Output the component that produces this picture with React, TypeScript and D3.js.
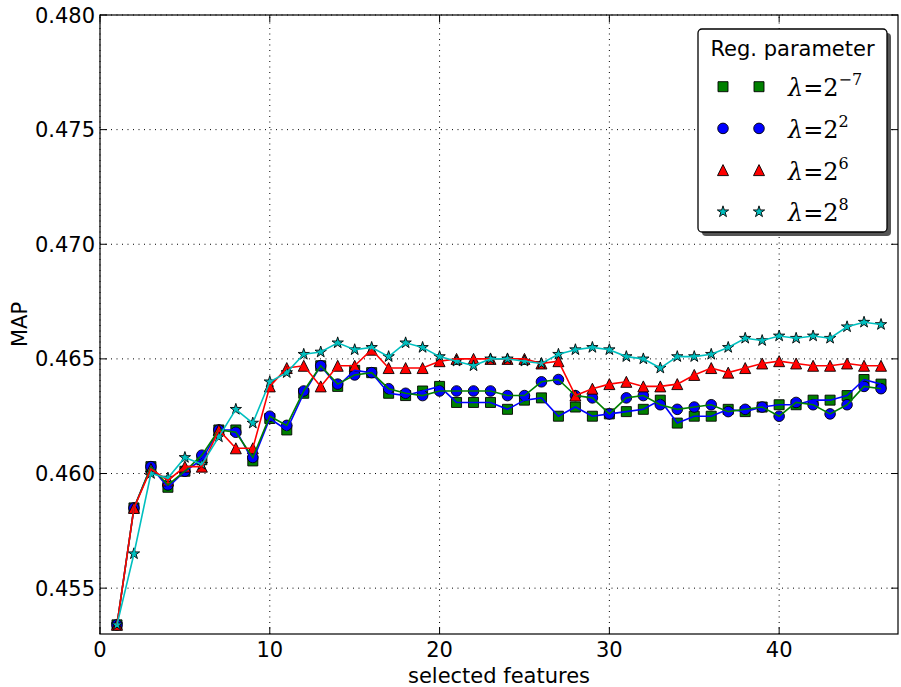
import React from 'react';
import * as d3 from 'd3';

// selected features (x) and MAP per regularisation parameter
const features = [1, 2, 3, 4, 5, 6, 7, 8, 9, 10, 11, 12, 13, 14, 15, 16, 17, 18, 19, 20, 21, 22, 23,
  24, 25, 26, 27, 28, 29, 30, 31, 32, 33, 34, 35, 36, 37, 38, 39, 40, 41, 42, 43, 44, 45, 46];

const mapLambdaNeg7 = [0.4534, 0.4585, 0.4603, 0.4594, 0.4601, 0.4606, 0.4619, 0.4619, 0.46055, 0.4624,
  0.4619, 0.4635, 0.4647, 0.4638, 0.4645, 0.4644, 0.4635, 0.4634, 0.4636, 0.4638, 0.4631, 0.4631, 0.4631,
  0.4628, 0.4632, 0.4633, 0.4625, 0.4629, 0.4625, 0.4626, 0.4627, 0.4628, 0.4632, 0.4622, 0.4625, 0.4625,
  0.4628, 0.4627, 0.4629, 0.4630, 0.4630, 0.4632, 0.4632, 0.4634, 0.4641, 0.4639];

const mapLambda2 = [0.4534, 0.4585, 0.4603, 0.4595, 0.4601, 0.4608, 0.4619, 0.4618, 0.4607, 0.4625,
  0.4621, 0.4636, 0.4647, 0.4639, 0.4643, 0.4644, 0.4637, 0.4635, 0.4634, 0.4636, 0.4636, 0.4636, 0.4636,
  0.4634, 0.4634, 0.4640, 0.4641, 0.4634, 0.4633, 0.4626, 0.4633, 0.4634, 0.4630, 0.4628, 0.4629, 0.4630,
  0.4627, 0.4628, 0.4629, 0.4625, 0.4631, 0.4630, 0.4626, 0.4630, 0.4638, 0.4637];

const mapLambda6 = [0.4534, 0.4585, 0.4602, 0.4597, 0.4603, 0.4603, 0.4619, 0.4611, 0.4611, 0.4638,
  0.4646, 0.4647, 0.4638, 0.4647, 0.4647, 0.4654, 0.4646, 0.4646, 0.4646, 0.4649, 0.4650, 0.4650, 0.4650,
  0.4650, 0.4650, 0.4648, 0.4649, 0.4634, 0.4637, 0.4639, 0.4640, 0.4638, 0.4638, 0.4639, 0.4643, 0.4646,
  0.4644, 0.4646, 0.4648, 0.4649, 0.4648, 0.4647, 0.4647, 0.4648, 0.4647, 0.4647];

const mapLambda8 = [0.4534, 0.4565, 0.4600, 0.4598, 0.4607, 0.4604, 0.4616, 0.4628, 0.4622, 0.4640,
  0.4644, 0.4652, 0.4653, 0.4657, 0.4654, 0.4655, 0.4651, 0.4657, 0.4655, 0.4651, 0.4649, 0.4647, 0.4650,
  0.4650, 0.4649, 0.4648, 0.4652, 0.4654, 0.4655, 0.4654, 0.4651, 0.4650, 0.4646, 0.4651, 0.4651, 0.4652,
  0.4655, 0.4659, 0.4658, 0.4660, 0.4659, 0.4660, 0.4659, 0.4664, 0.4666, 0.4665];

const xTicks = [0, 10, 20, 30, 40];
const yTicks = [0.455, 0.46, 0.465, 0.47, 0.475, 0.48];
const legendExponents = ['\u22127', '2', '6', '8'];

const W = 901;
const H = 687;
const margin = { top: 15, right: 3, bottom: 53, left: 100 };

// markers keep their colour, lines follow the default b/g/r/c cycle
const series = [
  { values: mapLambdaNeg7, marker: 'square', face: '#008000', line: '#0000ff' },
  { values: mapLambda2, marker: 'circle', face: '#0000ff', line: '#008000' },
  { values: mapLambda6, marker: 'triangle', face: '#ff0000', line: '#ff0000' },
  { values: mapLambda8, marker: 'star', face: '#00bfbf', line: '#00bfbf' },
];

const markerPath = (kind: string) => {
  if (kind === 'square') return d3.symbol(d3.symbolSquare, 100)();
  if (kind === 'circle') return d3.symbol(d3.symbolCircle, Math.PI * 5.3 * 5.3)();
  if (kind === 'star') return d3.symbol(d3.symbolStar, 40)();
  const h = 5.5;
  return `M0,${-h}L${h},${h}L${-h},${h}Z`;
};

const font = '"DejaVu Sans", sans-serif';

export default function App() {
  const x = d3.scaleLinear().domain([0, 47]).range([margin.left, W - margin.right]);
  const y = d3.scaleLinear().domain([0.453, 0.48]).range([H - margin.bottom, margin.top]);
  const [x0, x1] = x.range();
  const [y0, y1] = y.range();
  const tickLen = 7;

  const lineGen = d3.line<number>()
    .x((_, i) => x(features[i]))
    .y(d => y(d));

  const lx = 698, ly = 29, lw = 189, lh = 203;

  return (
    <svg width={W} height={H} style={{ position: 'absolute', left: 0, top: 0, background: '#fff' }}>
      <rect x={0} y={0} width={W} height={H} fill="#fff" />

      {/* grid */}
      <g stroke="#000" strokeWidth={1} strokeDasharray="1,4.5">
        {xTicks.map(t => (
          <line key={'gx' + t} x1={x(t)} x2={x(t)} y1={y0} y2={y1} />
        ))}
        {yTicks.map(t => (
          <line key={'gy' + t} x1={x0} x2={x1} y1={y(t)} y2={y(t)} />
        ))}
      </g>

      {/* markers */}
      {series.map((s, si) => (
        <g key={'m' + si} fill={s.face} stroke="#000" strokeWidth={0.9}>
          {s.values.map((v, i) => (
            <path key={i} d={markerPath(s.marker) as string} transform={`translate(${x(features[i])},${y(v)})`} />
          ))}
        </g>
      ))}

      {/* lines */}
      {series.map((s, si) => (
        <path key={'l' + si} d={lineGen(s.values) as string} fill="none" stroke={s.line} strokeWidth={1.6} />
      ))}

      {/* frame and ticks */}
      <rect x={x0} y={y1} width={x1 - x0} height={y0 - y1} fill="none" stroke="#000" strokeWidth={1.2} />
      <g stroke="#000" strokeWidth={1}>
        {xTicks.map(t => (
          <g key={'tx' + t}>
            <line x1={x(t)} x2={x(t)} y1={y0} y2={y0 - tickLen} />
            <line x1={x(t)} x2={x(t)} y1={y1} y2={y1 + tickLen} />
          </g>
        ))}
        {yTicks.map(t => (
          <g key={'ty' + t}>
            <line x1={x0} x2={x0 + tickLen} y1={y(t)} y2={y(t)} />
            <line x1={x1} x2={x1 - tickLen} y1={y(t)} y2={y(t)} />
          </g>
        ))}
      </g>

      {/* tick labels */}
      <g fontFamily={font} fontSize={21} fill="#000">
        {xTicks.map(t => (
          <text key={'lx' + t} x={x(t)} y={657} textAnchor="middle">{t}</text>
        ))}
        {yTicks.map(t => (
          <text key={'ly' + t} x={95} y={y(t) + 7.6} textAnchor="end">{d3.format('.3f')(t)}</text>
        ))}
        <text x={(x0 + x1) / 2} y={683} textAnchor="middle">selected features</text>
        <text transform={`translate(27,${(y0 + y1) / 2}) rotate(-90)`} textAnchor="middle">MAP</text>
      </g>

      {/* legend */}
      <rect x={lx + 4} y={ly + 4} width={lw} height={lh} rx={4} fill="#555" />
      <rect x={lx} y={ly} width={lw} height={lh} rx={4} fill="#fff" stroke="#000" strokeWidth={1.3} />
      <text x={lx + lw / 2} y={56} textAnchor="middle" fontFamily={font} fontSize={21}>Reg. parameter</text>
      {series.map((s, si) => {
        const cy = 86.7 + si * 41.7;
        return (
          <g key={'lg' + si}>
            <g fill={s.face} stroke="#000" strokeWidth={0.9}>
              <path d={markerPath(s.marker) as string} transform={`translate(723,${cy})`} />
              <path d={markerPath(s.marker) as string} transform={`translate(759,${cy})`} />
            </g>
            <text x={788} y={cy + 9.5} fontFamily='"DejaVu Serif", serif' fontSize={24}>
              <tspan fontStyle="italic">λ</tspan>
              <tspan>=2</tspan>
              <tspan dy={-11} fontSize={16}>{legendExponents[si]}</tspan>
            </text>
          </g>
        );
      })}
    </svg>
  );
}
